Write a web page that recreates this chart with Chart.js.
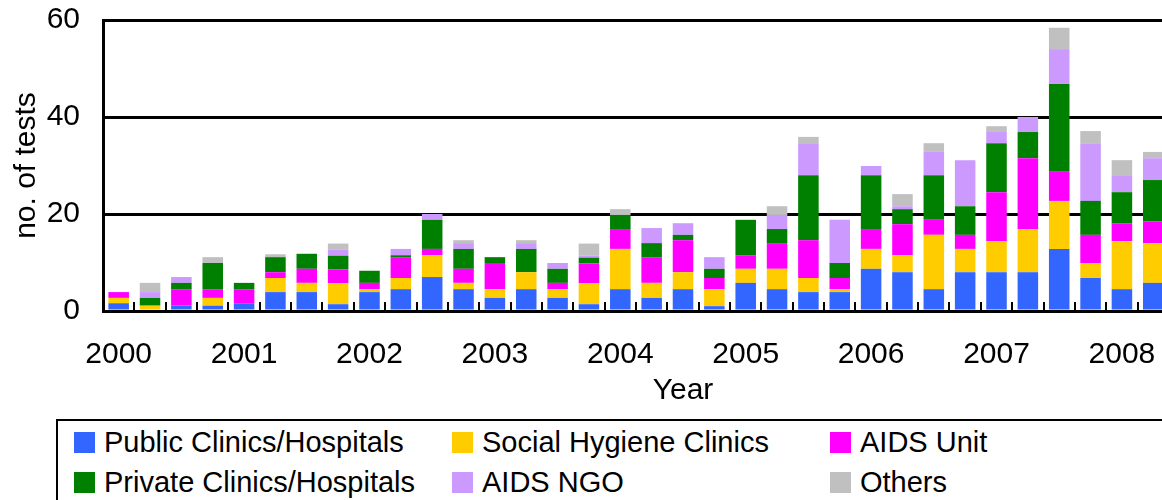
<!DOCTYPE html>
<html>
<head>
<meta charset="utf-8">
<title>Tests by source, quarterly 2000-2008</title>
<script src="https://cdn.jsdelivr.net/npm/chart.js@4.4.1/dist/chart.umd.min.js"></script>
<style>
   html, body { margin: 0; padding: 0; overflow: hidden; background: #fff; }
   #chart-wrap { position: absolute; left: 0; top: 0; width: 1269px; height: 415px; }
   #legend-box {
      position: absolute; left: 56px; top: 419px; width: 1200px; height: 120px;
      border: 2px solid #000; box-sizing: border-box;
      font-family: 'Liberation Sans', Arial, sans-serif; font-size: 29px; color: #000;
   }
   #legend-box ul {
      list-style: none; margin: 0; padding: 1px 0 0 16px;
      display: grid; grid-template-columns: repeat(3, 378px);
   }
   #legend-box li { display: flex; align-items: center; height: 40px; white-space: nowrap; }
   #legend-box .swatch { width: 21px; height: 21px; margin-right: 9px; flex: none; }
</style>
</head>
<body>
<div id="chart-wrap"><canvas id="testsChart" width="1269" height="415"></canvas></div>
<div id="legend-box"><ul id="legend-list"></ul></div>

<script>
// #region Data
// the axis runs on past the visible edge of the picture (2008 Q3 onward has no bars)
const quarters = [
   '2000 Q1', '2000 Q2', '2000 Q3', '2000 Q4',
   '2001 Q1', '2001 Q2', '2001 Q3', '2001 Q4',
   '2002 Q1', '2002 Q2', '2002 Q3', '2002 Q4',
   '2003 Q1', '2003 Q2', '2003 Q3', '2003 Q4',
   '2004 Q1', '2004 Q2', '2004 Q3', '2004 Q4',
   '2005 Q1', '2005 Q2', '2005 Q3', '2005 Q4',
   '2006 Q1', '2006 Q2', '2006 Q3', '2006 Q4',
   '2007 Q1', '2007 Q2', '2007 Q3', '2007 Q4',
   '2008 Q1', '2008 Q2', '2008 Q3', '2008 Q4',
   '2009 Q1'
];

const publicClinics = [1.6, 0, 1.1, 1.1, 1.6, 3.9, 3.9, 1.4, 3.9, 4.5, 7.0, 4.5, 2.7, 4.5, 2.7, 1.4, 4.5,
   2.7, 4.5, 1.0, 5.8, 4.5, 3.9, 3.9, 8.7, 8.0, 4.5, 8.0, 8.0, 8.0, 12.8, 6.8, 4.5, 5.8];
const socialHygiene = [1.1, 1.1, 0, 1.6, 0, 2.9, 1.9, 4.3, 0.6, 2.3, 4.5, 1.3, 1.8, 3.5, 1.8, 4.3, 8.3,
   3.1, 3.5, 3.5, 2.9, 4.2, 2.9, 0.6, 4.1, 3.5, 11.2, 4.8, 6.4, 8.9, 9.9, 3.1, 9.9, 8.2];
const aidsUnit = [1.2, 0, 3.4, 1.8, 2.9, 1.2, 2.9, 2.9, 1.3, 4.3, 1.3, 2.9, 5.4, 0, 1.3, 4.1, 4.1,
   5.2, 6.6, 2.3, 2.8, 5.3, 7.8, 2.3, 4.1, 6.4, 3.1, 2.9, 10.1, 14.6, 6.0, 5.8, 3.7, 4.5];
const privateClinics = [0, 1.6, 1.3, 5.4, 1.3, 3.1, 3.1, 2.8, 2.5, 0.4, 6.0, 4.1, 1.2, 4.8, 2.9, 1.2, 2.9,
   3.0, 1.1, 1.9, 7.3, 2.9, 13.4, 3.1, 11.1, 3.1, 9.2, 5.9, 10.1, 5.4, 18.1, 7.0, 6.4, 8.5];
const aidsNgo = [0, 1.2, 1.2, 0, 0, 0, 0, 1.3, 0, 1.3, 1.2, 1.2, 0, 1.2, 1.2, 0.4, 0,
   3.1, 2.4, 2.4, 0, 2.9, 6.6, 8.9, 1.9, 0.6, 4.8, 9.5, 2.3, 3.1, 7.2, 11.9, 3.5, 4.5];
const others = [0, 1.9, 0, 1.2, 0, 0.6, 0, 1.2, 0, 0, 0, 0.6, 0, 0.6, 0, 2.5, 1.2,
   0, 0, 0, 0, 1.8, 1.3, 0, 0, 2.5, 1.8, 0, 1.2, 0, 4.4, 2.5, 3.1, 1.3];

const yTicks = [0, 20, 40, 60];
// #endregion

const axisFont = { family: "'Liberation Sans', Arial, sans-serif", size: 30 };

// ***********************
// Name:    innerTicks
// Purpose: Short tick marks at the quarter boundaries, pointing up into the plot.
// *************************
const innerTicks = {
   id: 'innerTicks',
   afterDatasetsDraw(chart) {
      const xs = chart.scales.x;
      const ctx = chart.ctx;
      const half = (xs.getPixelForValue(1) - xs.getPixelForValue(0)) / 2;
      const bottom = chart.chartArea.bottom;
      ctx.save();
      ctx.strokeStyle = '#000';
      ctx.lineWidth = 2;
      for (let i = 0; i <= quarters.length; i++) {
         const px = Math.round(xs.getPixelForValue(i) - half);
         ctx.beginPath();
         ctx.moveTo(px, bottom - 9);
         ctx.lineTo(px, bottom);
         ctx.stroke();
      }
      ctx.restore();
   }
};

// ***********************
// Name:    buildLegend
// Purpose: Writes the boxed legend (3 columns) from the chart datasets.
// *************************
function buildLegend(chart) {
   const list = document.getElementById('legend-list');
   list.innerHTML = '';
   chart.data.datasets.forEach(function (ds) {
      const li = document.createElement('li');
      const sw = document.createElement('span');
      sw.className = 'swatch';
      sw.style.background = ds.backgroundColor;
      li.appendChild(sw);
      li.appendChild(document.createTextNode(ds.label));
      list.appendChild(li);
   });
}

function series(label, data, color) {
   return { label: label, data: data, backgroundColor: color, borderWidth: 0,
      categoryPercentage: 1, barPercentage: 0.655 };
}

const config = {
   type: 'bar',
   data: {
      labels: quarters,
      datasets: [
         series('Public Clinics/Hospitals', publicClinics, '#3366FF'),
         series('Social Hygiene Clinics', socialHygiene, '#FFCC00'),
         series('AIDS Unit', aidsUnit, '#FF00FF'),
         series('Private Clinics/Hospitals', privateClinics, '#008000'),
         series('AIDS NGO', aidsNgo, '#CC99FF'),
         series('Others', others, '#C0C0C0')
      ]
   },
   options: {
      responsive: false,
      animation: false,
      layout: { padding: { left: 0, right: 6, top: 20, bottom: 2 } },
      plugins: { legend: { display: false }, tooltip: { enabled: false } },
      scales: {
         x: {
            stacked: true,
            z: 1,
            afterFit: function (scale) {
               scale.height = 102;
               scale.paddingLeft = 0;
               scale.paddingRight = 0;
            },
            grid: { display: false, drawTicks: false },
            border: { display: true, color: '#000', width: 3 },
            ticks: {
               autoSkip: false, maxRotation: 0, minRotation: 0,
               color: '#000', font: axisFont, padding: 26,
               callback: function (value, index) {
                  const lbl = quarters[index];
                  return lbl.endsWith('Q1') ? lbl.slice(0, 4) : '';
               }
            },
            title: { display: true, text: 'Year', color: '#000', font: axisFont, padding: { top: 0, bottom: 4 } }
         },
         y: {
            stacked: true,
            min: 0, max: 60,
            afterFit: function (scale) {
               scale.width = 103;
               scale.paddingTop = 0;
               scale.paddingBottom = 0;
            },
            afterBuildTicks: function (scale) { scale.ticks = yTicks.map(v => ({ value: v })); },
            grid: { color: '#000', lineWidth: 3, drawTicks: false },
            border: { display: true, color: '#000', width: 3 },
            ticks: { color: '#000', font: axisFont, padding: 23 },
            title: { display: true, text: 'no. of tests', color: '#000', font: axisFont, padding: { top: 9, bottom: 0 } }
         }
      }
   },
   plugins: [innerTicks]
};

const testsChart = new Chart(document.getElementById('testsChart'), config);
buildLegend(testsChart);
</script>
</body>
</html>
